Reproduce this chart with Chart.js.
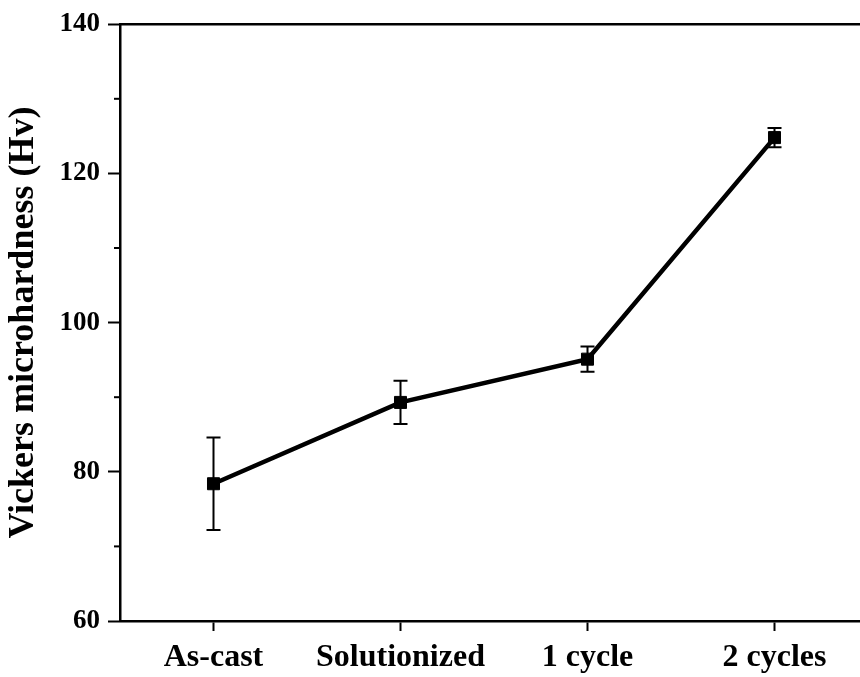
<!DOCTYPE html>
<html>
<head>
<meta charset="utf-8">
<script src="https://cdn.jsdelivr.net/npm/chart.js@4.4.1/dist/chart.umd.min.js"></script>
<style>
  html, body { margin: 0; padding: 0; background: #fff; overflow: hidden; }
  #wrap { width: 880px; height: 677px; }
</style>
</head>
<body>
<div id="wrap"><canvas id="hardness-chart"></canvas></div>
<script>
const categories = ['As-cast', 'Solutionized', '1 cycle', '2 cycles'];
const hardness = [78.4, 89.3, 95.1, 124.8];
const hardnessErr = [6.2, 2.9, 1.7, 1.3];
const yTicks = [60, 80, 100, 120, 140];
const yMinorTicks = [70, 90, 110, 130];

const serif = '"Liberation Serif", "Times New Roman", serif';

// error bars + minor ticks + top frame line
const extras = {
  id: 'extras',
  afterDatasetsDraw(chart) {
    const ctx = chart.ctx;
    const x = chart.scales.x, y = chart.scales.y;
    ctx.save();
    ctx.strokeStyle = '#000';
    ctx.lineWidth = 2;
    hardness.forEach((v, i) => {
      const px = x.getPixelForValue(i);
      const top = y.getPixelForValue(v + hardnessErr[i]);
      const bot = y.getPixelForValue(v - hardnessErr[i]);
      ctx.beginPath();
      ctx.moveTo(px, top); ctx.lineTo(px, bot);
      ctx.moveTo(px - 7, top); ctx.lineTo(px + 7, top);
      ctx.moveTo(px - 7, bot); ctx.lineTo(px + 7, bot);
      ctx.stroke();
    });
    yMinorTicks.forEach(v => {
      const py = y.getPixelForValue(v);
      ctx.beginPath();
      ctx.moveTo(y.right - 6, py); ctx.lineTo(y.right, py);
      ctx.stroke();
    });
    const area = chart.chartArea;
    ctx.lineWidth = 2.5;
    ctx.beginPath();
    ctx.moveTo(area.left - 1, area.top); ctx.lineTo(area.right, area.top);
    ctx.stroke();
    ctx.restore();
  }
};

new Chart(document.getElementById('hardness-chart'), {
  type: 'line',
  data: {
    labels: categories,
    datasets: [{
      data: hardness,
      borderColor: '#000',
      backgroundColor: '#000',
      borderWidth: 4.5,
      pointStyle: 'rect',
      pointRadius: 8.5,
      pointBorderWidth: 1,
      tension: 0
    }]
  },
  options: {
    responsive: true,
    maintainAspectRatio: false,
    animation: false,
    layout: { padding: { top: 20, right: 12, left: 0, bottom: 0 } },
    plugins: { legend: { display: false }, tooltip: { enabled: false } },
    scales: {
      x: {
        type: 'category',
        offset: true,
        grid: { display: true, drawOnChartArea: false, offset: false, tickLength: 10, tickColor: '#000', tickWidth: 2 },
        border: { color: '#000', width: 2.5 },
        ticks: { color: '#000', padding: 8, font: { family: serif, size: 32, weight: 'bold' } },
        afterFit: s => { s.height = 56; }
      },
      y: {
        min: 60,
        max: 140,
        afterBuildTicks: s => { s.ticks = yTicks.map(v => ({ value: v })); },
        grid: { display: true, drawOnChartArea: false, tickLength: 12, tickColor: '#000', tickWidth: 2 },
        border: { color: '#000', width: 2.5 },
        ticks: { color: '#000', padding: 8, font: { family: serif, size: 27, weight: 'bold' } },
        title: { display: true, text: 'Vickers microhardness (Hv)', color: '#000', padding: { top: 2, bottom: 0 }, font: { family: serif, size: 36, weight: 'bold' } },
        afterFit: s => { s.width = 120; }
      }
    }
  },
  plugins: [extras]
});
</script>
</body>
</html>
